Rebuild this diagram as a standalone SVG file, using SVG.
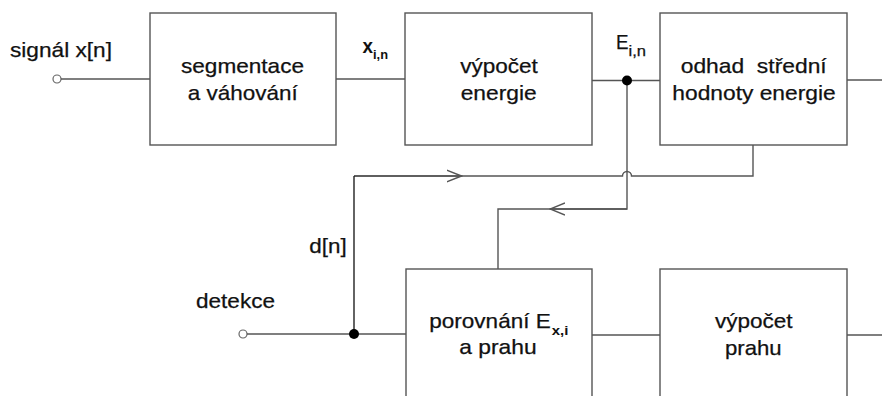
<svg xmlns="http://www.w3.org/2000/svg" width="882" height="396" viewBox="0 0 882 396">
  <style>
    .box { fill: #ffffff; stroke: #555555; stroke-width: 1.4; }
    .wire { fill: none; stroke: #555555; stroke-width: 1.4; }
    .dark { fill: none; stroke: #222222; stroke-width: 1.4; }
    .port { fill: #ffffff; stroke: #666666; stroke-width: 1.2; }
    .dot { fill: #000000; }
    text { font-family: "Liberation Sans", Arial, sans-serif; font-size: 21px; fill: #111111; stroke: #111111; stroke-width: 0.25; white-space: pre; }
    .c { text-anchor: middle; }
    .sub { font-size: 13.5px; font-weight: bold; stroke-width: 0; }
    .subn { font-size: 14.5px; }
    .b { font-weight: bold; stroke-width: 0; }
  </style>
  <defs>
    <marker id="chev" markerWidth="16" markerHeight="14" refX="15" refY="7" orient="auto" markerUnits="userSpaceOnUse">
      <path d="M0,1 L15,7 L0,13" fill="none" stroke="#555555" stroke-width="1.4"/>
    </marker>
  </defs>

  <!-- connectors -->
  <g id="connectors">
    <circle class="port" cx="57" cy="79" r="4"/>
    <path class="wire" d="M61,79 H150"/>
    <path class="wire" d="M336,79 H405"/>
    <path class="wire" d="M592,80.5 H660"/>
    <path class="wire" d="M847,80 H882"/>
    <!-- energy tap down to comparator -->
    <path class="wire" d="M627,80.5 V209 H498 V269"/>
    <path class="wire" d="M627,209 H550" marker-end="url(#chev)"/>
    <!-- mean energy feedback to decision line, hopping over the tap -->
    <path class="wire" d="M753,145 V176 H631.5 A4.5,4.5 0 0 0 622.5,176 H354"/>
    <path class="wire" d="M354,176 H461.5" marker-end="url(#chev)"/>
    <path class="dark" d="M354,176 V334"/>
    <circle class="port" cx="243" cy="334" r="4"/>
    <path class="wire" d="M247,334 H406"/>
    <path class="wire" d="M592,335 H660"/>
    <path class="wire" d="M847,335 H882"/>
    <circle class="dot" cx="627" cy="80.5" r="5"/>
    <circle class="dot" cx="354" cy="334" r="5"/>
  </g>

  <!-- labels on wires -->
  <g id="labels">
    <text x="10" y="57" textLength="102" lengthAdjust="spacingAndGlyphs">signál x[n]</text>
    <text class="b" x="362.5" y="52.5" textLength="10.5" lengthAdjust="spacingAndGlyphs">x</text>
    <text class="sub" x="373" y="59" textLength="15" lengthAdjust="spacingAndGlyphs">i,n</text>
    <text x="616" y="48.5" textLength="12.5" lengthAdjust="spacingAndGlyphs">E</text>
    <text class="subn" x="628.5" y="55.5" textLength="17.5" lengthAdjust="spacingAndGlyphs">i,n</text>
    <text x="309.3" y="253.3" textLength="37.4" lengthAdjust="spacingAndGlyphs">d[n]</text>
    <text x="196" y="308.3" textLength="79" lengthAdjust="spacingAndGlyphs">detekce</text>
  </g>

  <g id="segmentace">
    <rect class="box" x="150" y="13" width="186" height="132"/>
    <text class="c" x="242.5" y="72.5" textLength="123" lengthAdjust="spacingAndGlyphs">segmentace</text>
    <text class="c" x="242.7" y="100" textLength="110" lengthAdjust="spacingAndGlyphs">a váhování</text>
  </g>

  <g id="vypocet-energie">
    <rect class="box" x="405" y="13" width="187" height="132"/>
    <text class="c" x="499" y="72.5" textLength="77.7" lengthAdjust="spacingAndGlyphs">výpočet</text>
    <text class="c" x="498.7" y="100" textLength="76" lengthAdjust="spacingAndGlyphs">energie</text>
  </g>

  <g id="odhad">
    <rect class="box" x="660" y="13" width="187" height="132"/>
    <text class="c" x="753.7" y="72.5" textLength="146" lengthAdjust="spacingAndGlyphs">odhad  střední</text>
    <text class="c" x="754" y="100" textLength="163.4" lengthAdjust="spacingAndGlyphs">hodnoty energie</text>
  </g>

  <g id="porovnani">
    <rect class="box" x="406" y="269" width="186" height="140"/>
    <text x="429.3" y="327.5" textLength="121.4" lengthAdjust="spacingAndGlyphs">porovnání E</text>
    <text class="sub" x="551.7" y="335" textLength="16.6" lengthAdjust="spacingAndGlyphs">x,i</text>
    <text class="c" x="498" y="354" textLength="77.4" lengthAdjust="spacingAndGlyphs">a prahu</text>
  </g>

  <g id="vypocet-prahu">
    <rect class="box" x="660" y="269" width="187" height="140"/>
    <text class="c" x="753.8" y="328" textLength="77.7" lengthAdjust="spacingAndGlyphs">výpočet</text>
    <text class="c" x="753.3" y="354.5" textLength="56.7" lengthAdjust="spacingAndGlyphs">prahu</text>
  </g>
</svg>
